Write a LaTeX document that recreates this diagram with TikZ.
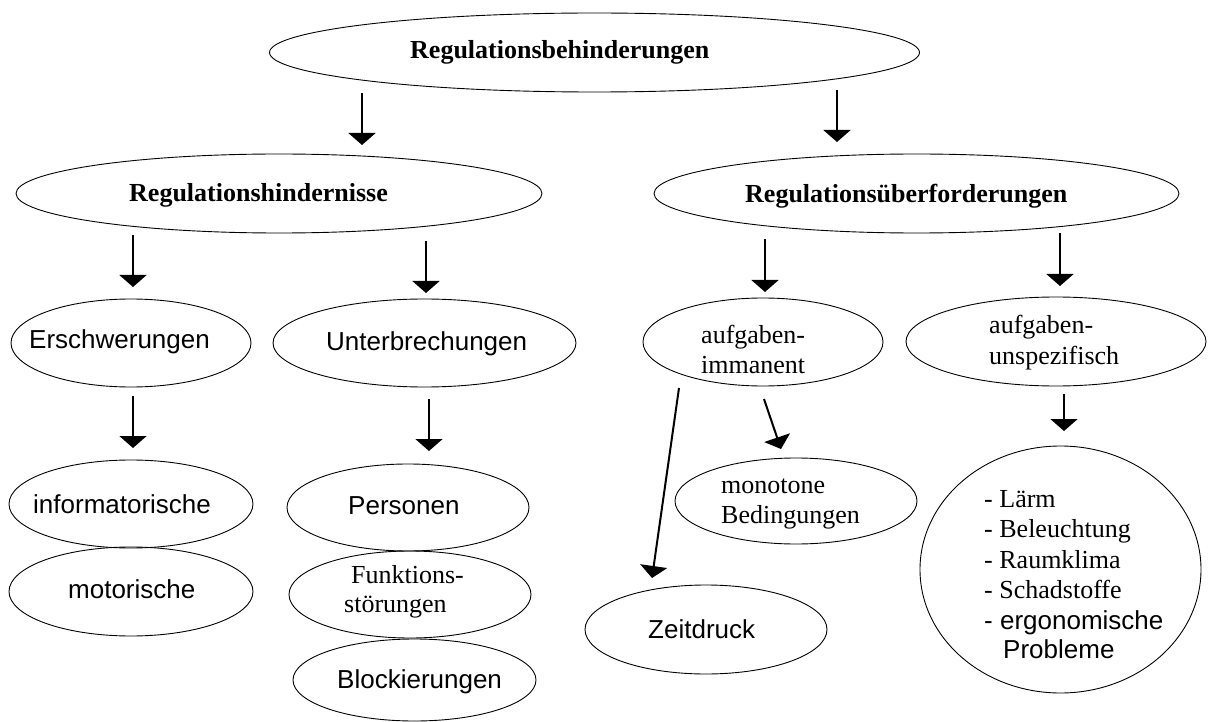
\documentclass[tikz,border=0pt]{standalone}
\usepackage{fontspec}
\setmainfont{Liberation Serif}
\setsansfont{Liberation Sans}
\usetikzlibrary{arrows.meta,shapes.geometric}
\begin{document}
\begin{tikzpicture}[x=1pt, y=-1pt,
  ell/.style={draw, ellipse, inner sep=0pt, line width=0.9pt},
  arr/.style={line width=2pt, -{Triangle[width=27pt,length=12pt]}},
  tx/.style={anchor=base west, inner sep=0pt, font=\fontsize{26}{30}\selectfont},
  bx/.style={tx, font=\fontsize{26}{30}\selectfont\bfseries},
  sx/.style={tx, font=\fontsize{26}{30}\selectfont\sffamily}]
\useasboundingbox (0,0) rectangle (1208,722);
\fill[white] (0,0) rectangle (1208,722);

% ellipses
\node[ell, minimum width=650pt, minimum height=79pt] (top) at (594.5,52.5) {};
\node[ell, minimum width=526pt, minimum height=79pt] (hind) at (279,193.5) {};
\node[ell, minimum width=525pt, minimum height=79pt] (ueber) at (916.5,193.5) {};
\node[ell, minimum width=240pt, minimum height=88pt] (erschw) at (131,343) {};
\node[ell, minimum width=303pt, minimum height=88pt] (unterbr) at (424.5,343) {};
\node[ell, minimum width=240pt, minimum height=88pt] (imman) at (763,342) {};
\node[ell, minimum width=300pt, minimum height=89pt] (unspez) at (1056,341.5) {};
\node[ell, minimum width=244pt, minimum height=88pt] (inform) at (131,504) {};
\node[ell, minimum width=244pt, minimum height=89pt] (motor) at (131,591.5) {};
\node[ell, minimum width=242pt, minimum height=87pt] (person) at (408,507.5) {};
\node[ell, minimum width=242pt, minimum height=87pt] (funkt) at (410,594.5) {};
\node[ell, minimum width=243pt, minimum height=82pt] (block) at (414.5,680) {};
\node[ell, minimum width=242pt, minimum height=86pt] (monot) at (796,501) {};
\node[ell, minimum width=242pt, minimum height=89pt] (zeit) at (706,629.5) {};
\node[ell, minimum width=281pt, minimum height=247pt] (umwelt) at (1060.5,569.5) {};

% texts
\node[bx] (ttop) at (410,59) {Regulationsbehinderungen};
\node[bx] (thind) at (129,202) {Regulationshindernisse};
\node[bx] (tueber) at (745,203) {Regulationsüberforderungen};
\node[sx] (terschw) at (29,348) {Erschwerungen};
\node[sx] (tunterbr) at (326,350) {Unterbrechungen};
\node[tx] (timman1) at (701,343) {aufgaben-};
\node[tx] (timman2) at (701,373) {immanent};
\node[tx] (tunspez1) at (989,334) {aufgaben-};
\node[tx] (tunspez2) at (989,364) {unspezifisch};
\node[sx] (tinform) at (33,513) {informatorische};
\node[sx] (tmotor) at (68,598) {motorische};
\node[sx] (tperson) at (348,514) {Personen};
\node[tx] (tfunkt1) at (351,583) {Funktions-};
\node[tx] (tfunkt2) at (344,612) {störungen};
\node[sx] (tblock) at (337,688) {Blockierungen};
\node[tx] (tmonot1) at (721,493) {monotone};
\node[tx] (tmonot2) at (721,523) {Bedingungen};
\node[sx] (tzeit) at (648,638) {Zeitdruck};
\node[tx] (tu1) at (984,507) {- Lärm};
\node[tx] (tu2) at (984,537) {- Beleuchtung};
\node[tx] (tu3) at (984,568) {- Raumklima};
\node[tx] (tu4) at (984,598) {- Schadstoffe};
\node[sx] (tu5) at (984,629) {- ergonomische};
\node[sx] (tu6) at (1003,658) {Probleme};

% arrow end points
\coordinate (a1s) at (362,93);   \coordinate (a1e) at (362,145);
\coordinate (a2s) at (837,90);   \coordinate (a2e) at (837,142);
\coordinate (a3s) at (133,235);  \coordinate (a3e) at (133,287);
\coordinate (a4s) at (426,241);  \coordinate (a4e) at (426,293);
\coordinate (a5s) at (765,239);  \coordinate (a5e) at (765,292);
\coordinate (a6s) at (1060,233); \coordinate (a6e) at (1060,286);
\coordinate (a7s) at (133,396);  \coordinate (a7e) at (133,448);
\coordinate (a8s) at (429,399);  \coordinate (a8e) at (429,451);
\coordinate (a9s) at (679,388);  \coordinate (a9e) at (652,578);
\coordinate (a10s) at (764,399); \coordinate (a10e) at (781,449);
\coordinate (a11s) at (1064,394);\coordinate (a11e) at (1064,431);

\draw[arr] (a1s) -- (a1e);
\draw[arr] (a2s) -- (a2e);
\draw[arr] (a3s) -- (a3e);
\draw[arr] (a4s) -- (a4e);
\draw[arr] (a5s) -- (a5e);
\draw[arr] (a6s) -- (a6e);
\draw[arr] (a7s) -- (a7e);
\draw[arr] (a8s) -- (a8e);
\draw[arr] (a9s) -- (a9e);
\draw[arr] (a10s) -- (a10e);
\draw[arr] (a11s) -- (a11e);
\end{tikzpicture}
\end{document}
